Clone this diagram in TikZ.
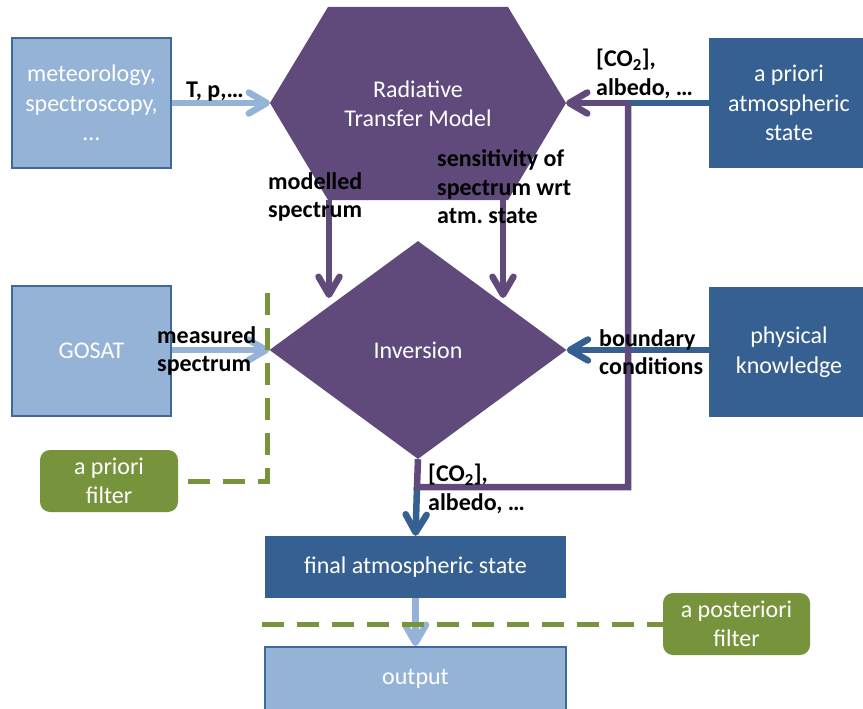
\documentclass[tikz,border=0pt]{standalone}
\usepackage{fontspec}
\setmainfont{Carlito}
\usetikzlibrary{arrows.meta,shapes.geometric}
\definecolor{lblue}{HTML}{95B3D7}
\definecolor{lbord}{HTML}{41689C}
\definecolor{dblue}{HTML}{376092}
\definecolor{purp}{HTML}{604A7B}
\definecolor{grn}{HTML}{77933C}
\begin{document}
\begin{tikzpicture}[x=1pt,y=-1pt,
  txt/.style={font=\fontsize{24}{29.5}\selectfont, text=white, align=center, inner sep=0pt},
  lightbox/.style={txt, fill=lblue, draw=lbord, line width=2pt},
  darkbox/.style={txt, fill=dblue},
  filterbox/.style={txt, fill=grn, rounded corners=10pt},
  lab/.style={font=\bfseries\fontsize{24}{28.5}\selectfont, align=left, inner sep=0pt, text=black},
  tip/.style={-{Straight Barb[length=18pt,width=21pt,round]}},
  conn/.style={line width=6.5pt},
  filt/.style={grn, line width=5pt, dash pattern=on 22pt off 13pt}
]
\useasboundingbox (0,0) rectangle (863,709);

% boxes
\node[lightbox, minimum width=159pt, minimum height=130pt] (met) at (91.5,103) {meteorology,\\spectroscopy,\\…};
\node[lightbox, minimum width=159pt, minimum height=130pt] (gosat) at (91.5,351) {GOSAT};
\node[darkbox, minimum width=160pt, minimum height=130pt] (apriori) at (789,103) {a priori\\atmospheric\\state};
\node[darkbox, minimum width=160pt, minimum height=130pt] (phys) at (789,352) {physical\\knowledge};
\node[darkbox, minimum width=301pt, minimum height=62pt] (final) at (415.5,567) {final atmospheric state};
\node[lightbox, minimum width=301pt, minimum height=64pt] (output) at (415.5,679) {output};
\node[filterbox, minimum width=138pt, minimum height=62pt] (apf) at (109,481) {a priori\\filter};
\node[filterbox, minimum width=147pt, minimum height=62pt] (apos) at (736.5,624) {a posteriori\\filter};

% hexagon (radiative transfer model)
\coordinate (hl) at (270,103);
\coordinate (hr) at (566,103);
\fill[purp] (328,7) -- (508,7) -- (hr) -- (508,200) -- (328,200) -- (hl) -- cycle;
\node[txt] (rtm) at (418,104) {Radiative\\Transfer Model};

% diamond (inversion)
\node[diamond, fill=purp, minimum width=297pt, minimum height=218pt, inner sep=0pt] (inv) at (418,350) {};
\node[txt] (invtxt) at (418,350) {Inversion};

% coordinates for connectors
\coordinate (m1) at (329,200);
\coordinate (m2) at (329,298);
\coordinate (s1) at (503,200);
\coordinate (s2) at (503,298);
\coordinate (j1) at (417,487);
\coordinate (j2) at (628,487);
\coordinate (j3) at (628,103);

% connectors
\draw[conn, lblue, tip] (met.east) -- (hl);
\draw[conn, lblue, tip] (gosat.east |- inv.west) -- (inv.west);
\draw[conn, dblue, tip] (phys.west |- inv.east) -- (inv.east);
\draw[conn, dblue] (apriori.west) -- (j3);
\draw[conn, dblue, tip] (j1) -- (final.north);
\draw[conn, purp] (inv.south) -- (j1) -- (j2) -- (j3);
\draw[conn, purp, tip] (j3) -- (hr);
\draw[conn, purp, tip] (m1) -- (m2);
\draw[conn, purp, tip] (s1) -- (s2);
\draw[conn, lblue, tip] (final.south) -- (output.north);

% filters
\coordinate (d1) at (267,293);
\coordinate (d2) at (267,481);
\coordinate (d3) at (262,624);
\draw[filt] (d1) -- (d2) -- (apf.east);
\draw[filt] (d3) -- (apos.west);

% labels
\node[lab, anchor=base west] (lT) at (186,98) {T, p,…};
\node[lab, anchor=west] (lco1) at (596,74) {[CO\textsubscript{2}],\\albedo, …};
\node[lab, anchor=west] (lmod) at (268,197) {modelled\\spectrum};
\node[lab, anchor=west] (lsen) at (437,187) {sensitivity of\\spectrum wrt\\atm.\ state};
\node[lab, anchor=west] (lmea) at (157,351) {measured\\spectrum};
\node[lab, anchor=west] (lbou) at (599,352) {boundary\\conditions};
\node[lab, anchor=west] (lco2) at (428,489) {[CO\textsubscript{2}],\\albedo, …};
\end{tikzpicture}
\end{document}
